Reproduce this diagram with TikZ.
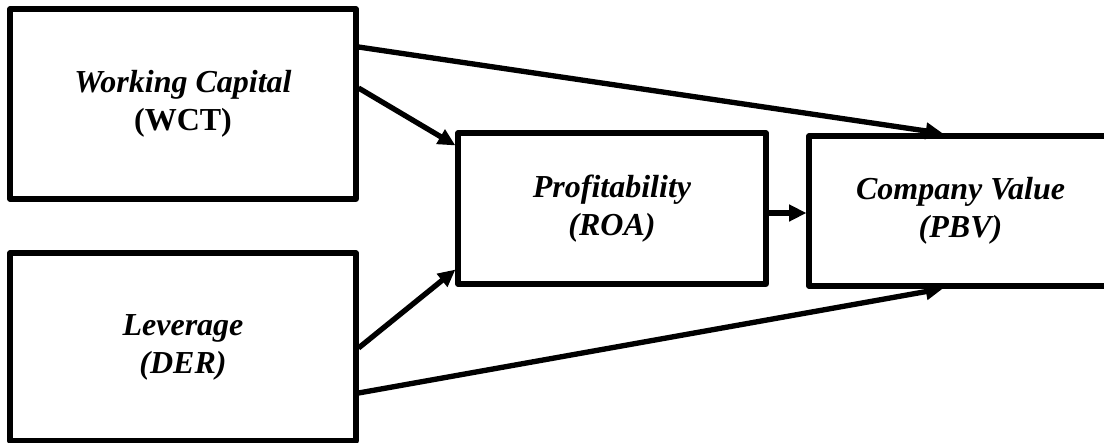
\documentclass[tikz,border=0pt]{standalone}
\usepackage{fontspec}
\setmainfont{Liberation Serif}
\usetikzlibrary{arrows.meta,calc}
\begin{document}
\begin{tikzpicture}[x=0.75pt,y=-0.75pt,
  box/.style={draw=black,line width=3.8pt,line join=round,fill=white,align=center,inner sep=0pt,
    font=\fontsize{24}{28.5}\selectfont\bfseries\itshape},
  conn/.style={line width=4pt,-{Triangle[length=13pt,width=12pt]},shorten >=0pt}]
\useasboundingbox (0,0) rectangle (1104,443);
\node[box,minimum width=259.5pt,minimum height=142.5pt] (wct) at (183,104) {Working Capital\\\upshape(WCT)};
\node[box,minimum width=259.5pt,minimum height=141pt] (der) at (183,347) {Leverage\\(DER)};
\node[box,minimum width=231pt,minimum height=113.25pt] (roa) at (612,208.5) {Profitability\\(ROA)};
\begin{scope}
\clip (0,0) rectangle (1104,443);
\node[box,minimum width=227.25pt,minimum height=112.5pt] (pbv) at (960.5,211) {Company Value\\(PBV)};
\end{scope}
\coordinate (a1) at ($(roa.east)+(0,4.5)$);
\draw[conn] ($(wct.east)+(0,-57)$) -- ($(pbv.north)+(-17.5,0)$);
\draw[conn] ($(wct.east)+(0,-16)$) -- ($(roa.north west)+(0,15)$);
\draw[conn] ($(der.east)+(0,1)$) -- ($(roa.south west)+(0,-17)$);
\draw[conn] ($(der.east)+(0,46)$) -- ($(pbv.south)+(-17.5,0)$);
\draw[conn] (a1) -- (pbv.west |- a1);
\end{tikzpicture}
\end{document}
